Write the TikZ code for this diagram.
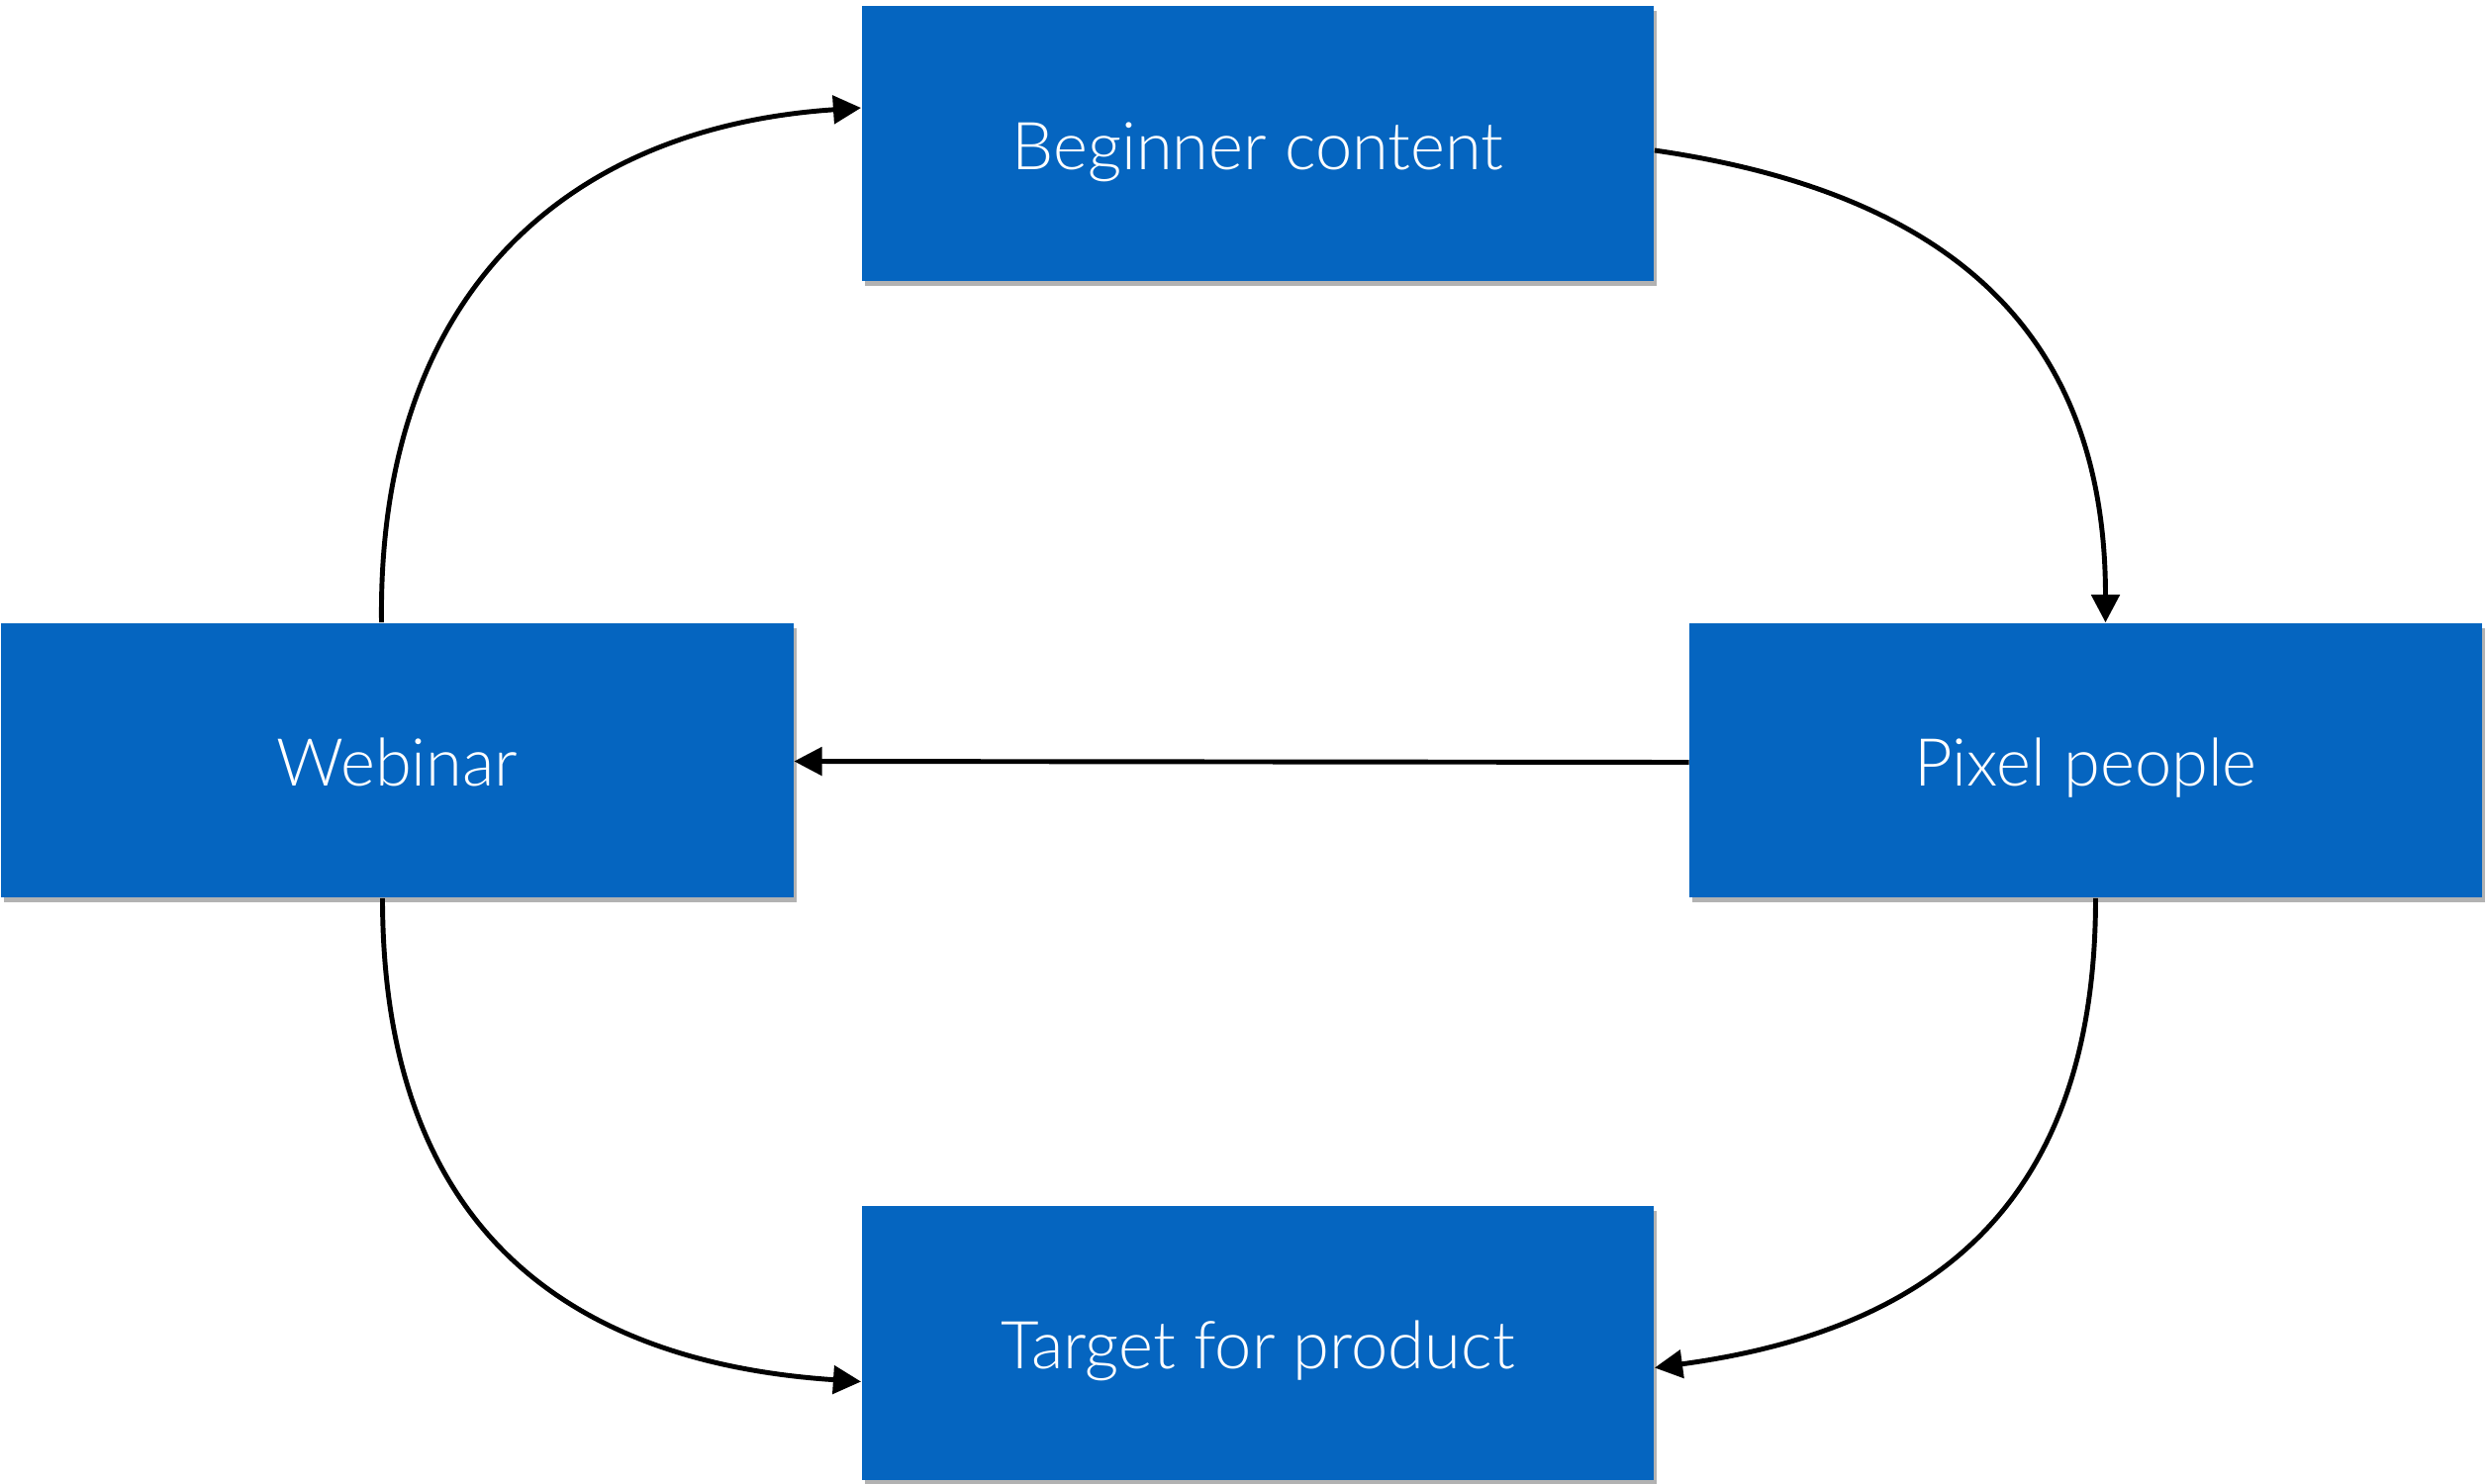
\documentclass[tikz,border=0pt]{standalone}
\usepackage{fontspec}
\IfFontExistsTF{Lato Light}{\setmainfont{Lato Light}}{\setmainfont{Liberation Sans}}
\usetikzlibrary{arrows.meta,calc,shadows}
\definecolor{boxblue}{RGB}{5,101,192}
\tikzset{
  box/.style={rectangle, fill=boxblue, draw=none, text=white,
    minimum width=8cm, minimum height=2.77cm, inner sep=0pt,
    text height=15pt, text depth=0pt,
    font=\fontsize{19}{22}\selectfont,
    drop shadow={shadow xshift=0.8pt, shadow yshift=-1.4pt, opacity=0.3, fill=black}},
  arr/.style={draw=black, line width=1.4pt, -{Triangle[length=8pt,width=8pt]}}
}
\begin{document}
\begin{tikzpicture}[x=0.01cm,y=-0.01cm]
\useasboundingbox (0,0) rectangle (2514,1500);
\node[box] (beg) at (1271,145) {Beginner content};
\node[box] (web) at (401.5,768.5) {Webinar};
\node[box] (pix) at (2107.5,768.5) {Pixel people};
\node[box] (tgt) at (1271,1357.5) {Target for product};
% Webinar -> Beginner content
\draw[arr] ($(web.north)+(-16,0)$) .. controls +(-4,-330) and +(-300,20) .. ($(beg.west)+(0,-36)$);
% Beginner content -> Pixel people
\draw[arr] ($(beg.east)+(0,7)$) .. controls +(290,42) and +(0,-300) .. ($(pix.north)+(20,0)$);
% Pixel people -> Webinar
\draw[arr] ($(pix.west)+(0,2)$) -- ($(web.east)+(0,1)$);
% Webinar -> Target for product
\draw[arr] ($(web.south)+(-15,0)$) .. controls +(0,330) and +(-300,-20) .. ($(tgt.west)+(0,39)$);
% Pixel people -> Target for product
\draw[arr] ($(pix.south)+(10,0)$) .. controls +(0,310) and +(280,-38) .. ($(tgt.east)+(0,25)$);
\end{tikzpicture}
\end{document}
